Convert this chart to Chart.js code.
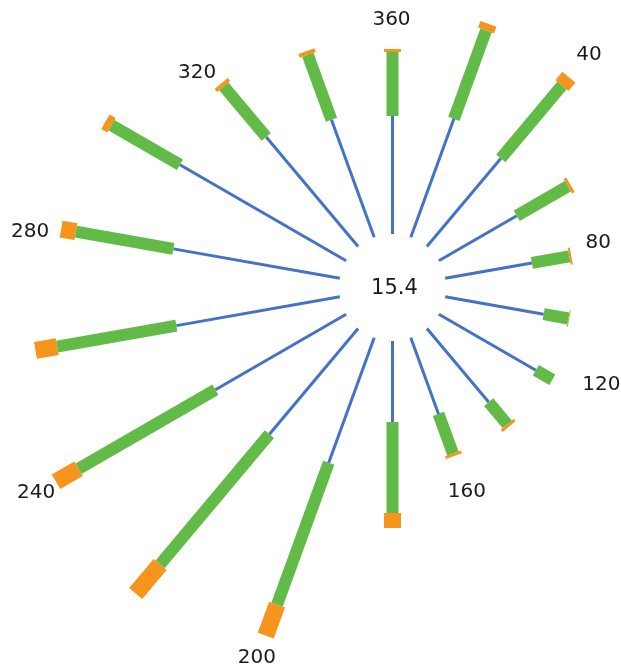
<!DOCTYPE html>
<html>
<head>
<meta charset="utf-8">
<script src="https://cdn.jsdelivr.net/npm/chart.js@4/dist/chart.umd.min.js"></script>
<style>
  html, body { margin: 0; padding: 0; background: #fff; }
  canvas { display: block; }
  .preload { position: absolute; left: -999px; top: 0; font-family: 'DejaVu Sans'; }
</style>
</head>
<body>
<span class="preload">0123456789.</span>
<canvas id="rose" width="621" height="670"></canvas>
<script>
// -- data --
const directions = [0, 20, 40, 60, 80, 100, 120, 140, 160, 180, 200, 220, 240, 260, 280, 300, 320, 340];
const innerPart  = [11.8, 12.6, 11.5, 9.0, 8.8, 10.0, 11.2, 9.6, 8.1, 8.1, 13.3, 13.8, 15.1, 16.6, 16.9, 19.2, 14.3, 12.5];
const middlePart = [6.4, 9.4, 9.5, 5.9, 3.8, 2.5, 1.9, 2.9, 4.2, 9.1, 15.1, 17.0, 15.8, 12.1, 9.9, 7.9, 6.6, 6.9];
const outerPart  = [0.3, 0.7, 1.1, 0.3, 0.2, 0.1, 0.0, 0.3, 0.3, 1.5, 3.3, 3.8, 2.6, 2.2, 1.5, 0.7, 0.4, 0.4];
const tickAngles = [40, 80, 120, 160, 200, 240, 280, 320, 360];
const tickLabels = ['40', '80', '120', '160', '200', '240', '280', '320', '360'];
const centerValue = '15.4';

// -- layout / style --
const hole = 5.35;
const labelShift = {   // px nudge of each label from its spoke tip
  40: [20, -22], 80: [27, -13], 120: [49, 5], 160: [13, 36], 200: [-9, 22],
  240: [-20, 11], 280: [-31, 3], 320: [-24, -11], 360: [-1, -29]
};
const colors = { inner: '#4472c4', middle: '#62bb46', outer: '#f7941d' };
const widths = { inner: 3, middle: 12, outer: 17 };
const font = "'DejaVu Sans'";

const polar = (deg, r) => {
  const a = deg * Math.PI / 180;
  return { x: r * Math.sin(a), y: r * Math.cos(a) };
};

const segment = (deg, r0, r1, kind) => ({
  data: [polar(deg, r0), polar(deg, r1)],
  showLine: true,
  borderColor: colors[kind],
  backgroundColor: colors[kind],
  borderWidth: widths[kind],
  borderCapStyle: 'butt',
  pointRadius: 0,
  pointHoverRadius: 0
});

const datasets = [];
directions.forEach((deg, i) => {
  const r1 = hole + innerPart[i];
  const r2 = r1 + middlePart[i];
  const r3 = r2 + outerPart[i];
  datasets.push(segment(deg, hole, r1, 'inner'));
  datasets.push(segment(deg, r1, r2, 'middle'));
  if (outerPart[i] > 0) datasets.push(segment(deg, r2, r3, 'outer'));
});

const labelsPlugin = {
  id: 'roseLabels',
  afterDatasetsDraw(chart) {
    const { ctx, scales: { x, y } } = chart;
    ctx.save();
    ctx.fillStyle = '#1a1a1a';
    ctx.textAlign = 'center';
    ctx.textBaseline = 'middle';

    ctx.font = '21px ' + font;
    ctx.fillText(centerValue, x.getPixelForValue(0) + 2, y.getPixelForValue(0) + 1);

    ctx.font = '20px ' + font;
    tickAngles.forEach((deg, k) => {
      const i = directions.indexOf(deg % 360);
      const tip = polar(deg, hole + innerPart[i] + middlePart[i] + outerPart[i]);
      const [dx, dy] = labelShift[deg];
      ctx.fillText(tickLabels[k], x.getPixelForValue(tip.x) + dx, y.getPixelForValue(tip.y) + dy);
    });
    ctx.restore();
  }
};

new Chart(document.getElementById('rose'), {
  type: 'scatter',
  data: { datasets },
  options: {
    responsive: false,
    animation: false,
    events: [],
    layout: { padding: 0, autoPadding: false },
    plugins: { legend: { display: false }, tooltip: { enabled: false } },
    scales: {
      x: { type: 'linear', display: false, min: -39.25, max: 22.85 },
      y: { type: 'linear', display: false, min: -38.25, max: 28.75 }
    }
  },
  plugins: [labelsPlugin]
});
</script>
</body>
</html>
